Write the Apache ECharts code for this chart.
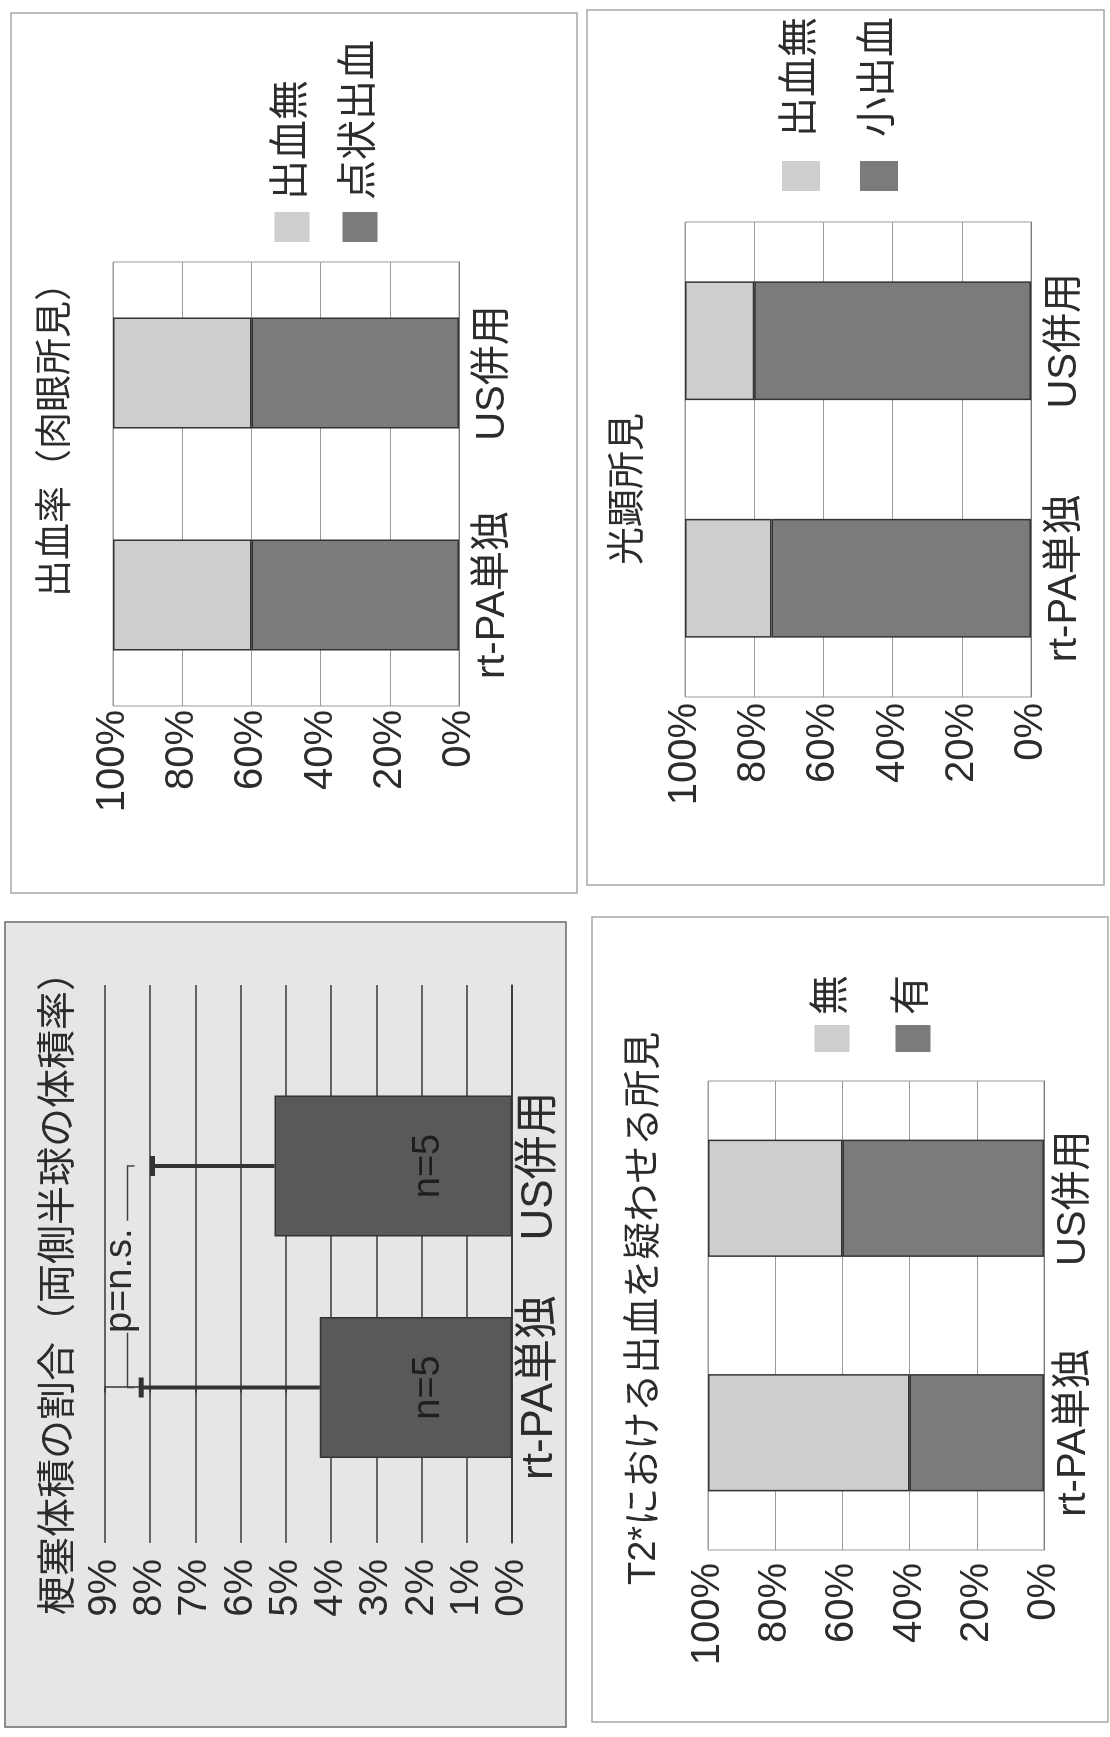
<!DOCTYPE html>
<html>
<head>
<meta charset="utf-8">
<script src="https://cdn.jsdelivr.net/npm/echarts@6/dist/echarts.min.js"></script>
<style>
  html, body { margin: 0; padding: 0; width: 1110px; height: 1737px; overflow: hidden; background: #fff; }
  /* the sheet is laid out landscape and turned a quarter turn to stand on the page */
  #sheet {
    position: absolute; left: 0; top: 0;
    width: 1737px; height: 1110px;
    transform-origin: 0 0;
    transform: translate(0, 1737px) rotate(-90deg);
  }
</style>
</head>
<body>
<div id="sheet"></div>
<script>
// ---- data ----
const groups = ['rt-PA単独', 'US併用'];

// 梗塞体積の割合（両側半球の体積率） [%]
const infarctMean = [4.25, 5.25];
const infarctSD = [3.95, 2.7];
const infarctN = [5, 5];
const infarctTest = 'p=n.s.';

// 出血率（肉眼所見） [%]
const grossNone = [40, 40];        // 出血無
const grossPetechial = [60, 60];   // 点状出血

// 光顕所見 [%]
const microNone = [25, 20];        // 出血無
const microSmall = [75, 80];       // 小出血

// T2*における出血を疑わせる所見 [%]
const t2None = [60, 40];           // 無
const t2Present = [40, 60];        // 有

// ---- styling ----
const FONT = "'Liberation Sans', 'Noto Sans CJK JP', sans-serif";
const INK = '#2c2c2c';
const LIGHT = '#cecece';
const DARK = '#7b7b7b';
const SOLID = '#595959';
const GRIDLINE = '#9a9a9a';

const chart = echarts.init(document.getElementById('sheet'), null, { width: 1737, height: 1110 });

function pctAxis(gridIndex, margin) {
  return {
    gridIndex, type: 'value', min: 0, max: 100, interval: 20,
    axisLine: { show: false }, axisTick: { show: false },
    splitLine: { lineStyle: { color: GRIDLINE, width: 1 } },
    axisLabel: { formatter: '{value}%', fontSize: 40, color: INK, margin, fontFamily: FONT }
  };
}
function groupAxis(gridIndex, margin) {
  return {
    gridIndex, type: 'category', data: groups,
    axisTick: { show: false },
    axisLine: { lineStyle: { color: '#7a7a7a', width: 1 } },
    axisLabel: { fontSize: 40, color: INK, margin, fontFamily: FONT }
  };
}
function stackBar(name, gridIndex, stack, data, color) {
  return {
    name, type: 'bar', xAxisIndex: gridIndex, yAxisIndex: gridIndex, stack, data,
    barCategoryGap: '50%',
    itemStyle: { color, borderColor: '#333', borderWidth: 1.5 }
  };
}
function legendBlock(names, left, top, w, h, gap, textPad) {
  return {
    data: names, orient: 'vertical', left, top, padding: 0,
    itemWidth: w, itemHeight: h, itemGap: gap, icon: 'rect', selectedMode: false,
    itemStyle: { borderWidth: 0 },
    textStyle: { fontSize: 40, lineHeight: 40, color: INK, fontFamily: FONT, padding: [0, 0, 0, textPad] }
  };
}
function heading(text, left, top, size) {
  return { text, left, top, padding: 0,
    textStyle: { fontSize: size, fontWeight: 'normal', color: INK, fontFamily: FONT } };
}

const bracketLevel = Math.max(...infarctMean.map((m, i) => m + infarctSD[i])) + 0.3;

const option = {
  animation: false,
  textStyle: { fontFamily: FONT },
  graphic: [
    { type: 'rect', z: -10, shape: { x: 10, y: 5, width: 805, height: 561 },
      style: { fill: '#e6e6e6', stroke: '#6a6a6a', lineWidth: 1.5 } },
    { type: 'rect', z: -10, shape: { x: 844, y: 11, width: 880, height: 566 },
      style: { fill: '#fff', stroke: '#a8a8a8', lineWidth: 1.5 } },
    { type: 'rect', z: -10, shape: { x: 15, y: 592, width: 805, height: 516 },
      style: { fill: '#fff', stroke: '#a8a8a8', lineWidth: 1.5 } },
    { type: 'rect', z: -10, shape: { x: 852, y: 587, width: 875, height: 517 },
      style: { fill: '#fff', stroke: '#a8a8a8', lineWidth: 1.5 } }
  ],
  title: [
    heading('梗塞体積の割合（両側半球の体積率）', 122, 40, 39),
    heading('出血率（肉眼所見）', 1140, 38, 37),
    heading('T2*における出血を疑わせる所見', 152, 626, 38),
    heading('光顕所見', 1172, 610, 38)
  ],
  legend: [
    legendBlock(['出血無', '点状出血'], 1495, 272, 30, 35, 28, 7),
    legendBlock(['無', '有'], 685, 812, 27, 35, 41, 5),
    legendBlock(['出血無', '小出血'], 1546, 781, 30, 38, 38, 19)
  ],
  grid: [
    { left: 194, top: 105, width: 558, height: 407 },
    { left: 1031, top: 113, width: 444, height: 346, show: true, borderColor: GRIDLINE, borderWidth: 1 },
    { left: 187, top: 708, width: 469, height: 336, show: true, borderColor: GRIDLINE, borderWidth: 1 },
    { left: 1040, top: 685, width: 475, height: 346, show: true, borderColor: GRIDLINE, borderWidth: 1 }
  ],
  xAxis: [
    { gridIndex: 0, type: 'value', min: -0.702, max: 1.817,
      splitLine: { show: false }, axisTick: { show: false },
      axisLine: { show: true, lineStyle: { color: '#333', width: 1.5 } },
      axisLabel: { customValues: [0, 1], formatter: v => groups[Math.round(v)],
        fontSize: 44, color: INK, margin: 6, fontFamily: FONT } },
    groupAxis(1, 14),
    groupAxis(2, 10),
    groupAxis(3, 14)
  ],
  yAxis: [
    { gridIndex: 0, type: 'value', min: 0, max: 9, interval: 1,
      axisLine: { show: true, lineStyle: { color: '#333', width: 1.5 } },
      axisTick: { show: true, length: 5, lineStyle: { color: '#333', width: 1.5 } },
      splitLine: { lineStyle: { color: '#383838', width: 1.6 } },
      axisLabel: { formatter: '{value}%', fontSize: 40, color: INK, margin: 16, fontFamily: FONT } },
    pctAxis(1, 4),
    pctAxis(2, 13),
    pctAxis(3, 6)
  ],
  series: [
    // infarct volume: mean bars
    { type: 'bar', xAxisIndex: 0, yAxisIndex: 0, barWidth: 141,
      data: groups.map((g, i) => [i, infarctMean[i]]),
      itemStyle: { color: SOLID, borderColor: '#333', borderWidth: 1.5 },
      label: { show: true, position: 'insideBottom', distance: 64,
        formatter: p => 'n=' + infarctN[p.dataIndex],
        fontSize: 38, lineHeight: 38, color: '#1e1e1e', fontFamily: FONT } },
    // infarct volume: +SD whiskers
    { type: 'custom', xAxisIndex: 0, yAxisIndex: 0, z: 5, clip: false,
      data: groups.map((g, i) => [i, infarctMean[i], infarctMean[i] + infarctSD[i]]),
      encode: { x: 0, y: [1, 2] },
      renderItem(params, api) {
        const base = api.coord([api.value(0), api.value(1)]);
        const tip = api.coord([api.value(0), api.value(2)]);
        return { type: 'group', children: [
          { type: 'line', shape: { x1: base[0], y1: base[1], x2: tip[0], y2: tip[1] },
            style: { stroke: '#333', lineWidth: 4 } },
          { type: 'line', shape: { x1: tip[0] - 10, y1: tip[1], x2: tip[0] + 10, y2: tip[1] },
            style: { stroke: '#333', lineWidth: 5 } }
        ] };
      } },
    // infarct volume: comparison bracket
    { type: 'custom', xAxisIndex: 0, yAxisIndex: 0, z: 5, clip: false,
      data: [[0, 1, bracketLevel]],
      encode: { x: [0, 1], y: 2 },
      renderItem(params, api) {
        const a = api.coord([api.value(0), api.value(2)]);
        const b = api.coord([api.value(1), api.value(2)]);
        const mid = (a[0] + b[0]) / 2;
        const half = 56;
        const hook = 7;
        const st = { stroke: '#444', lineWidth: 1.5, fill: null };
        return { type: 'group', children: [
          { type: 'polyline', shape: { points: [[a[0], a[1] + hook], [a[0], a[1]], [mid - half, a[1]]] }, style: st },
          { type: 'polyline', shape: { points: [[mid + half, b[1]], [b[0], b[1]], [b[0], b[1] + hook]] }, style: st },
          { type: 'text', x: mid - 4, y: a[1] - 7,
            style: { text: infarctTest, fontSize: 38, fontFamily: FONT, fill: INK,
              align: 'center', verticalAlign: 'middle' } }
        ] };
      } },

    stackBar('点状出血', 1, 'gross', grossPetechial, DARK),
    stackBar('出血無', 1, 'gross', grossNone, LIGHT),

    stackBar('有', 2, 't2', t2Present, DARK),
    stackBar('無', 2, 't2', t2None, LIGHT),

    stackBar('小出血', 3, 'micro', microSmall, DARK),
    stackBar('出血無', 3, 'micro', microNone, LIGHT)
  ]
};

chart.setOption(option);
</script>
</body>
</html>
